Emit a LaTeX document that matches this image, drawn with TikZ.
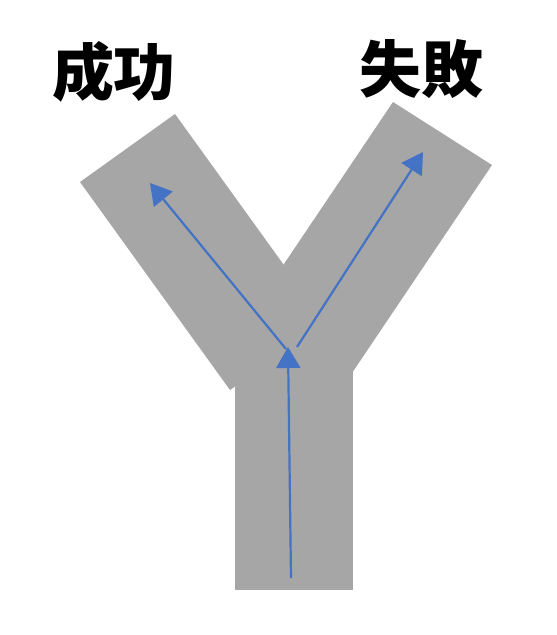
\documentclass[tikz,border=0pt]{standalone}
\usepackage{fontspec}
\newfontfamily\cjk{Noto Sans CJK TC}
\usetikzlibrary{arrows.meta}
\definecolor{ygray}{HTML}{A6A6A6}
\definecolor{yblue}{HTML}{4472C4}
\tikzset{
  road/.style={fill=ygray, draw=none},
  flow/.style={draw=yblue, line width=2.2pt, -{Triangle[width=24pt,length=21pt]}},
  label/.style={font=\cjk\bfseries\fontsize{62}{62}\selectfont, inner sep=0pt}
}
\begin{document}
\begin{tikzpicture}[x=1pt,y=-1pt]
\useasboundingbox (0,0) rectangle (557,635);
% Y shape
\fill[road] (235,320) rectangle (353,590);
\fill[road] (80,182) -- (175,114) -- (325,322) -- (230,390) -- cycle;
\fill[road] (393,102) -- (492,165) -- (352,373) -- (253,310) -- cycle;
% labels
\node[label] (success) at (114,72) {成功};
\node[label] (failure) at (421,69) {失敗};
% arrows
\coordinate (base) at (291,578);
\coordinate (fork) at (288,347);
\coordinate (forkL) at (286,349);
\coordinate (forkR) at (297,347);
\coordinate (tipL) at (150,183);
\coordinate (tipR) at (423,152);
\draw[flow] (base) -- (fork);
\draw[flow] (forkL) -- (tipL);
\draw[flow] (forkR) -- (tipR);
\end{tikzpicture}
\end{document}
